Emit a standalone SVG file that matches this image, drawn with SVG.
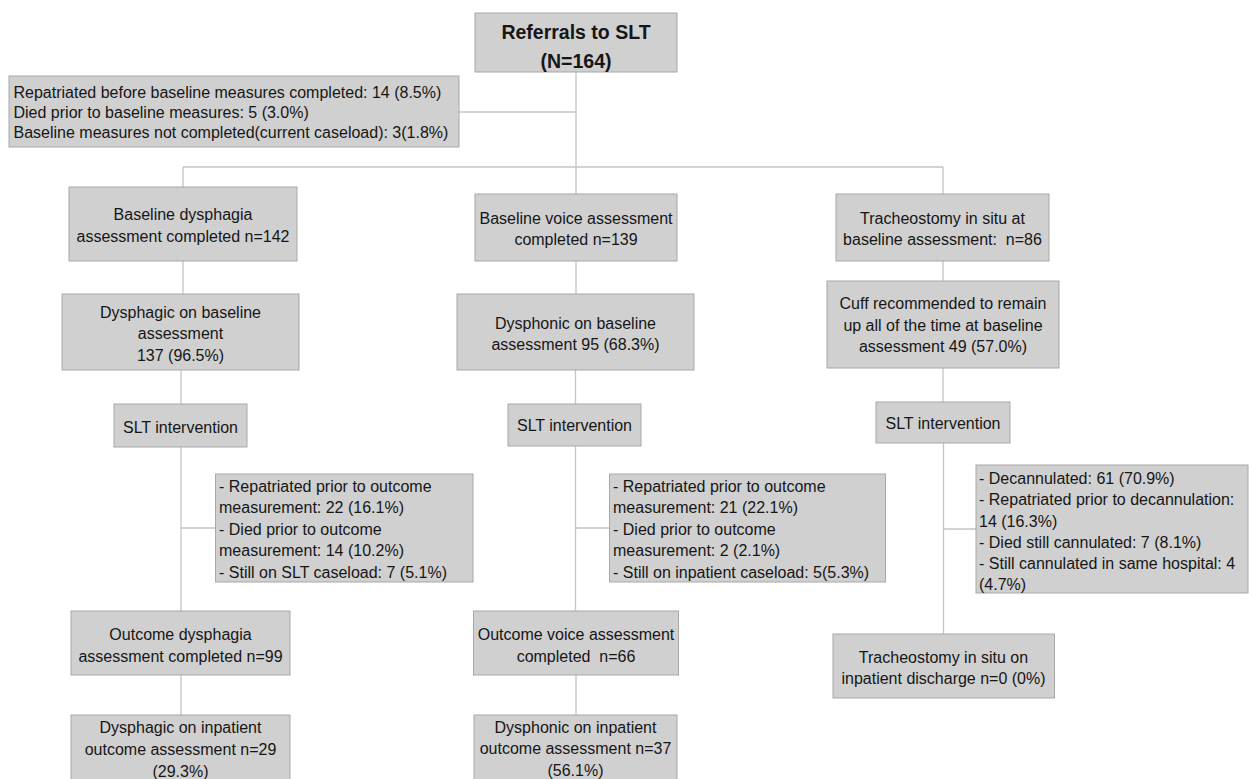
<svg xmlns="http://www.w3.org/2000/svg" width="1249" height="779" viewBox="0 0 1249 779">
<style>
.box{fill:#d0d0d0;stroke:#a8a8a8;stroke-width:1}
.t{font-family:"Liberation Sans",Arial,sans-serif;font-size:16px;fill:#161616}
.c{text-anchor:middle}
.b{font-weight:bold;font-size:19.5px}
.ln{stroke:#c4c4c4;stroke-width:1.3;fill:none}
</style>
<rect width="1249" height="779" fill="#ffffff"/>
<g id="connectors">
<path class="ln" d="M576,72V194M459,112H576M183,167H943M183,167V187M943,167V194"/>
<path class="ln" d="M183,261V294M181,370V404M181,447V611M181,528H215.5M181,675V715"/>
<path class="ln" d="M576,261V294M575.5,370V404M575.5,446V611M575.5,528H609.5M576,675V715"/>
<path class="ln" d="M943,261V281M943,368V402M943.5,443V634M943.5,529H976"/>
</g>
<g id="referrals">
<rect class="box" x="475" y="13" width="202" height="59"/>
<text class="t c b" x="576" y="39">Referrals to SLT</text>
<text class="t c b" x="576" y="68">(N=164)</text>
</g>
<g id="excluded">
<rect class="box" x="9" y="76" width="450" height="71"/>
<text class="t" x="13.5" y="98">Repatriated before baseline measures completed: 14 (8.5%)</text>
<text class="t" x="13.5" y="118">Died prior to baseline measures: 5 (3.0%)</text>
<text class="t" x="13.5" y="138">Baseline measures not completed(current caseload): 3(1.8%)</text>
</g>
<g id="dys-baseline">
<rect class="box" x="69" y="187" width="228" height="74"/>
<text class="t c" x="183" y="220">Baseline dysphagia</text>
<text class="t c" x="183" y="242">assessment completed n=142</text>
</g>
<g id="voice-baseline">
<rect class="box" x="475" y="194" width="202" height="67"/>
<text class="t c" x="576" y="224">Baseline voice assessment</text>
<text class="t c" x="576" y="245">completed n=139</text>
</g>
<g id="trach-baseline">
<rect class="box" x="836" y="194" width="213" height="67"/>
<text class="t c" x="942.5" y="224">Tracheostomy in situ at</text>
<text class="t c" x="942.5" y="245" xml:space="preserve">baseline assessment:  n=86</text>
</g>
<g id="dysphagic">
<rect class="box" x="62" y="294" width="237" height="76"/>
<text class="t c" x="180.5" y="318">Dysphagic on baseline</text>
<text class="t c" x="180.5" y="339">assessment</text>
<text class="t c" x="180.5" y="361">137 (96.5%)</text>
</g>
<g id="dysphonic">
<rect class="box" x="457" y="294" width="237" height="76"/>
<text class="t c" x="575.5" y="329">Dysphonic on baseline</text>
<text class="t c" x="575.5" y="350">assessment 95 (68.3%)</text>
</g>
<g id="cuff">
<rect class="box" x="827" y="281" width="232" height="87"/>
<text class="t c" x="943" y="309">Cuff recommended to remain</text>
<text class="t c" x="943" y="331">up all of the time at baseline</text>
<text class="t c" x="943" y="352">assessment 49 (57.0%)</text>
</g>
<g id="dys-slt">
<rect class="box" x="114" y="404" width="133" height="43"/>
<text class="t c" x="180.5" y="433">SLT intervention</text>
</g>
<g id="voice-slt">
<rect class="box" x="508" y="404" width="133" height="42"/>
<text class="t c" x="574.5" y="431">SLT intervention</text>
</g>
<g id="trach-slt">
<rect class="box" x="876" y="402" width="134" height="41"/>
<text class="t c" x="943" y="429">SLT intervention</text>
</g>
<g id="dys-lost">
<rect class="box" x="215.5" y="474" width="257.5" height="108"/>
<text class="t" x="219" y="492">- Repatriated prior to outcome</text>
<text class="t" x="219" y="513">measurement: 22 (16.1%)</text>
<text class="t" x="219" y="535">- Died prior to outcome</text>
<text class="t" x="219" y="556">measurement: 14 (10.2%)</text>
<text class="t" x="219" y="578">- Still on SLT caseload: 7 (5.1%)</text>
</g>
<g id="voice-lost">
<rect class="box" x="609.5" y="474" width="276" height="108"/>
<text class="t" x="613" y="492">- Repatriated prior to outcome</text>
<text class="t" x="613" y="513">measurement: 21 (22.1%)</text>
<text class="t" x="613" y="535">- Died prior to outcome</text>
<text class="t" x="613" y="556">measurement: 2 (2.1%)</text>
<text class="t" x="613" y="578">- Still on inpatient caseload: 5(5.3%)</text>
</g>
<g id="trach-lost">
<rect class="box" x="976" y="465" width="272" height="128"/>
<text class="t" x="979" y="484">- Decannulated: 61 (70.9%)</text>
<text class="t" x="979" y="505">- Repatriated prior to decannulation:</text>
<text class="t" x="979" y="527">14 (16.3%)</text>
<text class="t" x="979" y="548">- Died still cannulated: 7 (8.1%)</text>
<text class="t" x="979" y="569">- Still cannulated in same hospital: 4</text>
<text class="t" x="979" y="590">(4.7%)</text>
</g>
<g id="dys-outcome">
<rect class="box" x="71" y="611" width="219" height="64"/>
<text class="t c" x="180.5" y="640">Outcome dysphagia</text>
<text class="t c" x="180.5" y="662">assessment completed n=99</text>
</g>
<g id="voice-outcome">
<rect class="box" x="473.5" y="611" width="205" height="64"/>
<text class="t c" x="576" y="640">Outcome voice assessment</text>
<text class="t c" x="576" y="662" xml:space="preserve">completed  n=66</text>
</g>
<g id="trach-outcome">
<rect class="box" x="833" y="634" width="221.5" height="64"/>
<text class="t c" x="943.5" y="663">Tracheostomy in situ on</text>
<text class="t c" x="943.5" y="684">inpatient discharge n=0 (0%)</text>
</g>
<g id="dys-inpatient">
<rect class="box" x="71" y="715" width="219" height="70"/>
<text class="t c" x="180.5" y="733">Dysphagic on inpatient</text>
<text class="t c" x="180.5" y="755">outcome assessment n=29</text>
<text class="t c" x="180.5" y="777">(29.3%)</text>
</g>
<g id="voice-inpatient">
<rect class="box" x="474" y="715" width="203" height="70"/>
<text class="t c" x="575.5" y="733">Dysphonic on inpatient</text>
<text class="t c" x="575.5" y="754">outcome assessment n=37</text>
<text class="t c" x="575.5" y="776">(56.1%)</text>
</g>
</svg>
